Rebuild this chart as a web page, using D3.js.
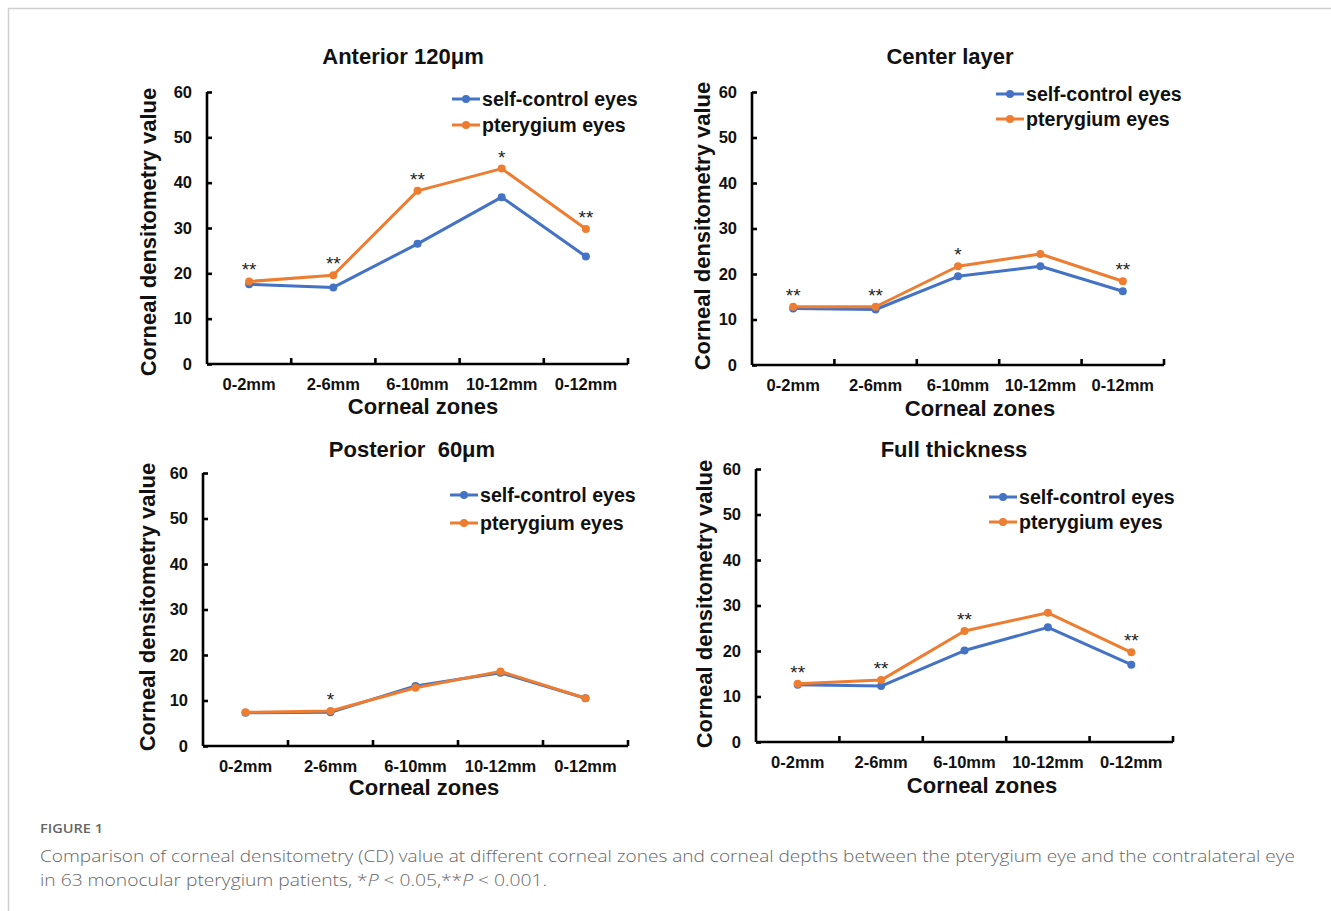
<!DOCTYPE html>
<html>
<head>
<meta charset="utf-8">
<script src="https://cdn.jsdelivr.net/npm/d3@7/dist/d3.min.js"></script>
<style>
  html, body { margin: 0; padding: 0; background: #fff; }
  svg { display: block; }
  .tick-label { font-family: "Liberation Sans", Arial, sans-serif; font-weight: bold; font-size: 16.5px; fill: #111; }
  .axis-title { font-family: "Liberation Sans", Arial, sans-serif; font-weight: bold; font-size: 22px; fill: #111; }
  .panel-title { font-family: "Liberation Sans", Arial, sans-serif; font-weight: bold; font-size: 22px; fill: #111; white-space: pre; }
  .legend-label { font-family: "Liberation Sans", Arial, sans-serif; font-weight: bold; font-size: 19.6px; fill: #111; }
  .star { font-family: "Liberation Sans", Arial, sans-serif; font-size: 19px; fill: #222; }
  .fig-label { font-family: "Open Sans", "Noto Sans", sans-serif; font-weight: 600; font-size: 13px; fill: #666; }
  .caption { font-family: "Open Sans", "Noto Sans", sans-serif; font-weight: 300; font-size: 17px; fill: #666; }
</style>
</head>
<body>
<svg id="fig" width="1331" height="911"></svg>
<script>
// Corneal zones along the x axis and the shared y ticks
const categories = ["0-2mm", "2-6mm", "6-10mm", "10-12mm", "0-12mm"];
const yTicks = [0, 10, 20, 30, 40, 50, 60];
const seriesNames = ["self-control eyes", "pterygium eyes"];

// Corneal densitometry values per depth layer
const anteriorControl   = [17.6, 16.9, 26.5, 36.8, 23.7];
const anteriorPterygium = [18.2, 19.6, 38.2, 43.1, 29.8];
const anteriorStars     = ["**", "**", "**", "*", "**"];

const centerControl     = [12.4, 12.2, 19.5, 21.7, 16.2];
const centerPterygium   = [12.8, 12.8, 21.7, 24.4, 18.4];
const centerStars       = ["**", "**", "*", "", "**"];

const posteriorControl   = [7.3, 7.4, 13.2, 16.1, 10.5];
const posteriorPterygium = [7.4, 7.7, 12.8, 16.4, 10.5];
const posteriorStars     = ["", "*", "", "", ""];

const fullControl     = [12.6, 12.3, 20.1, 25.2, 17.0];
const fullPterygium   = [12.8, 13.6, 24.4, 28.4, 19.7];
const fullStars       = ["**", "**", "**", "", "**"];

const panelTitles = ["Anterior 120\u03bcm", "Center layer", "Posterior  60\u03bcm", "Full thickness"];

const colors = ["#4472C4", "#ED7D31"];

// Layout of each panel's plotting area and its decorations
const panels = [
  { title: panelTitles[0], control: anteriorControl, pterygium: anteriorPterygium, stars: anteriorStars,
    x0: 207, x1: 628, yTop: 92, yBot: 364, titleX: 403, titleY: 64,
    yTitleX: 148, yTitleY: 232, xTitleX: 423, xTitleY: 414,
    legX: 452, legY: 99, legGap: 26 },
  { title: panelTitles[1], control: centerControl, pterygium: centerPterygium, stars: centerStars,
    x0: 752, x1: 1164, yTop: 92, yBot: 365, titleX: 950, titleY: 64,
    yTitleX: 702, yTitleY: 226, xTitleX: 980, xTitleY: 416,
    legX: 996, legY: 94, legGap: 25 },
  { title: panelTitles[2], control: posteriorControl, pterygium: posteriorPterygium, stars: posteriorStars,
    x0: 203, x1: 628, yTop: 473, yBot: 746, titleX: 412, titleY: 457,
    yTitleX: 147, yTitleY: 607, xTitleX: 424, xTitleY: 795,
    legX: 450, legY: 495, legGap: 28 },
  { title: panelTitles[3], control: fullControl, pterygium: fullPterygium, stars: fullStars,
    x0: 756, x1: 1173, yTop: 469, yBot: 742, titleX: 954, titleY: 457,
    yTitleX: 704, yTitleY: 604, xTitleX: 982, xTitleY: 793,
    legX: 989, legY: 497, legGap: 25 }
];

const svg = d3.select("#fig");

// Page frame
svg.append("line").attr("x1", 8).attr("y1", 8.5).attr("x2", 1331).attr("y2", 8.5)
  .attr("stroke", "#cfcfcf").attr("stroke-width", 1.5);
svg.append("line").attr("x1", 8.5).attr("y1", 8).attr("x2", 8.5).attr("y2", 911)
  .attr("stroke", "#cfcfcf").attr("stroke-width", 1.5);

panels.forEach(p => {
  const g = svg.append("g");
  const x = d3.scaleBand().domain(categories).range([p.x0, p.x1]).padding(0);
  const y = d3.scaleLinear().domain([0, 60]).range([p.yBot, p.yTop]);
  const cx = c => x(c) + x.bandwidth() / 2;

  // Title
  g.append("text").attr("class", "panel-title")
    .attr("x", p.titleX).attr("y", p.titleY).attr("text-anchor", "middle").text(p.title);

  // Y axis (ticks point inward)
  const yAxis = d3.axisLeft(y).tickValues(yTicks).tickSize(-5).tickPadding(15).tickFormat(d3.format("d"));
  const ya = g.append("g").attr("transform", `translate(${p.x0},0)`).call(yAxis);
  ya.select(".domain").attr("stroke", "#000").attr("stroke-width", 2.6)
    .attr("d", `M0,${p.yBot}V${p.yTop}`);
  ya.selectAll(".tick line").attr("stroke", "#000").attr("stroke-width", 2.6);
  ya.selectAll(".tick text").attr("class", "tick-label").attr("fill", null);

  // X axis: category labels centred in each band, ticks at band edges pointing up
  const xAxis = d3.axisBottom(x).tickSize(0).tickPadding(0);
  const xa = g.append("g").attr("transform", `translate(0,${p.yBot})`).call(xAxis);
  xa.select(".domain").attr("stroke", "#000").attr("stroke-width", 2.6)
    .attr("d", `M${p.x0},0H${p.x1}`);
  xa.selectAll(".tick text").attr("class", "tick-label").attr("fill", null)
    .attr("dy", null).attr("y", 26);
  const edges = categories.map(c => x(c) + x.bandwidth());
  xa.selectAll(".edge").data(edges).enter().append("line").attr("class", "edge")
    .attr("x1", d => d).attr("x2", d => d).attr("y1", 0).attr("y2", -6)
    .attr("stroke", "#000").attr("stroke-width", 2.6);

  // Axis titles
  g.append("text").attr("class", "axis-title")
    .attr("transform", `translate(${p.yTitleX},${p.yTitleY}) rotate(-90)`)
    .attr("text-anchor", "middle").attr("dominant-baseline", "central")
    .text("Corneal densitometry value");
  g.append("text").attr("class", "axis-title")
    .attr("x", p.xTitleX).attr("y", p.xTitleY).attr("text-anchor", "middle")
    .text("Corneal zones");

  // Lines and markers
  const line = d3.line().x((d, i) => cx(categories[i])).y(d => y(d));
  [p.control, p.pterygium].forEach((vals, k) => {
    g.append("path").datum(vals).attr("d", line)
      .attr("fill", "none").attr("stroke", colors[k]).attr("stroke-width", 3)
      .attr("stroke-linejoin", "round");
    g.selectAll(null).data(vals).enter().append("circle")
      .attr("cx", (d, i) => cx(categories[i])).attr("cy", d => y(d))
      .attr("r", 4).attr("fill", colors[k]);
  });

  // Significance markers above the higher point of each zone
  p.stars.forEach((s, i) => {
    if (!s) return;
    const top = Math.max(p.control[i], p.pterygium[i]);
    g.append("text").attr("class", "star")
      .attr("x", cx(categories[i])).attr("y", y(top) - 5)
      .attr("text-anchor", "middle").text(s);
  });

  // Legend
  seriesNames.forEach((name, k) => {
    const ly = p.legY + k * p.legGap;
    g.append("line").attr("x1", p.legX).attr("x2", p.legX + 28)
      .attr("y1", ly).attr("y2", ly).attr("stroke", colors[k]).attr("stroke-width", 3);
    g.append("circle").attr("cx", p.legX + 14).attr("cy", ly).attr("r", 4).attr("fill", colors[k]);
    g.append("text").attr("class", "legend-label")
      .attr("x", p.legX + 30).attr("y", ly).attr("dominant-baseline", "central").text(name);
  });
});

// Figure caption
svg.append("text").attr("class", "fig-label").attr("x", 40).attr("y", 833)
  .attr("textLength", 63).attr("lengthAdjust", "spacingAndGlyphs").text("FIGURE 1");
svg.append("text").attr("class", "caption").attr("x", 40).attr("y", 862)
  .attr("textLength", 1255).attr("lengthAdjust", "spacingAndGlyphs")
  .text("Comparison of corneal densitometry (CD) value at different corneal zones and corneal depths between the pterygium eye and the contralateral eye");
const cap2 = svg.append("text").attr("class", "caption").attr("x", 40).attr("y", 886)
  .attr("textLength", 507).attr("lengthAdjust", "spacingAndGlyphs");
cap2.append("tspan").text("in 63 monocular pterygium patients, *");
cap2.append("tspan").attr("font-style", "italic").text("P");
cap2.append("tspan").text(" < 0.05,**");
cap2.append("tspan").attr("font-style", "italic").text("P");
cap2.append("tspan").text(" < 0.001.");
</script>
</body>
</html>
